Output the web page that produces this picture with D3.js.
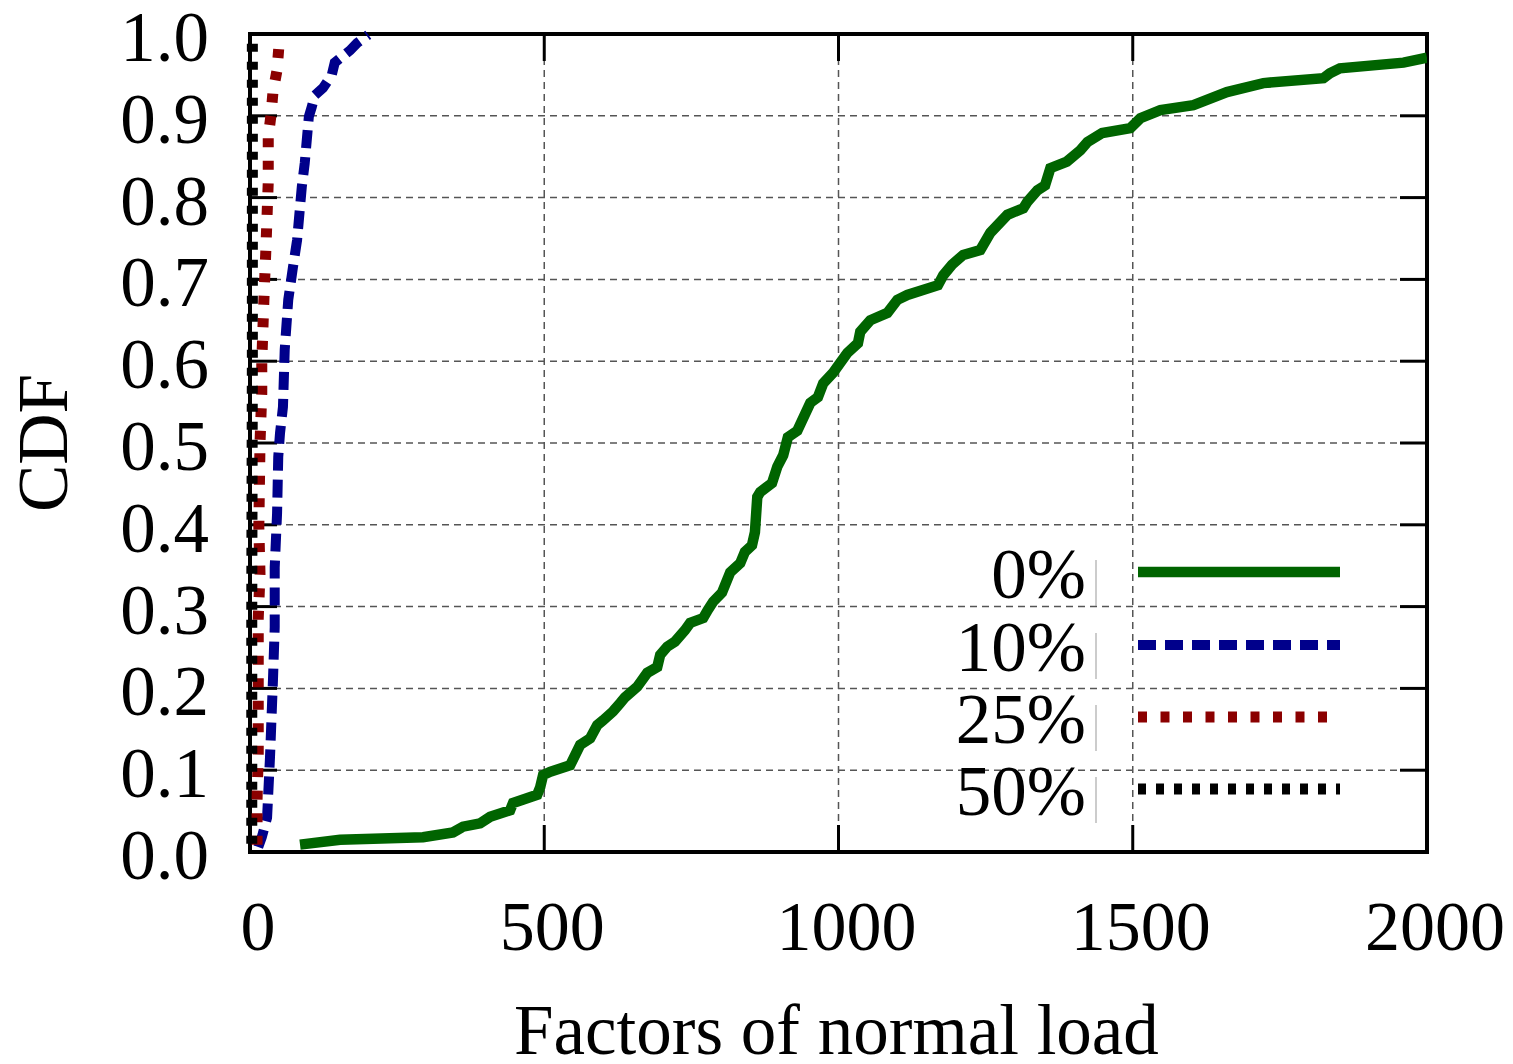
<!DOCTYPE html>
<html>
<head>
<meta charset="utf-8">
<script src="https://cdn.jsdelivr.net/npm/d3@7"></script>
<style>
  body { margin: 0; background: #fff; }
  text { font-family: "Liberation Serif", "Times New Roman", serif; fill: #000; }
</style>
</head>
<body>
<div id="chart"></div>
<script>
// CDF curves, [factor of normal load, cumulative fraction]
const load0 = [
  [85, 0.009], [153, 0.015], [294, 0.018], [345, 0.024], [362, 0.031], [391, 0.035],
  [408, 0.043], [442, 0.051], [447, 0.060], [488, 0.070], [493, 0.079], [498, 0.094],
  [510, 0.098], [544, 0.106], [561, 0.131], [578, 0.139], [590, 0.155], [600, 0.161],
  [617, 0.172], [629, 0.182], [637, 0.189], [658, 0.202], [675, 0.219], [692, 0.226],
  [697, 0.241], [709, 0.251], [722, 0.257], [739, 0.271], [748, 0.280], [770, 0.286],
  [778, 0.296], [787, 0.306], [802, 0.317], [816, 0.342], [833, 0.353], [841, 0.367],
  [853, 0.375], [858, 0.391], [862, 0.434], [867, 0.440], [887, 0.451], [896, 0.471],
  [906, 0.485], [914, 0.507], [930, 0.515], [952, 0.549], [965, 0.556], [974, 0.573],
  [991, 0.586], [998, 0.593], [1015, 0.610], [1033, 0.622], [1037, 0.636], [1054, 0.650],
  [1083, 0.659], [1100, 0.675], [1117, 0.681], [1169, 0.693], [1178, 0.705], [1193, 0.718],
  [1212, 0.730], [1241, 0.736], [1258, 0.757], [1287, 0.779], [1314, 0.787], [1321, 0.795],
  [1338, 0.809], [1351, 0.815], [1360, 0.836], [1388, 0.844], [1411, 0.858], [1423, 0.868],
  [1448, 0.879], [1496, 0.885], [1513, 0.897], [1547, 0.907], [1603, 0.913], [1660, 0.929],
  [1722, 0.940], [1824, 0.946], [1835, 0.952], [1852, 0.958], [1960, 0.965], [2000, 0.971]
];
const load10 = [
  [14, 0.006], [20, 0.018], [29, 0.042], [34, 0.116], [39, 0.210], [42, 0.275],
  [42, 0.348], [46, 0.414], [48, 0.483], [51, 0.512], [56, 0.544], [59, 0.614],
  [65, 0.675], [73, 0.715], [80, 0.748], [88, 0.813], [93, 0.842], [100, 0.899],
  [105, 0.911], [110, 0.925], [124, 0.934], [139, 0.950], [144, 0.965], [170, 0.980],
  [182, 0.989], [201, 0.999]
];
const load25 = [
  [12, 0.009], [12, 0.064], [14, 0.120], [14, 0.202], [14, 0.286], [17, 0.340],
  [15, 0.397], [17, 0.500], [20, 0.561], [20, 0.599], [24, 0.683], [27, 0.737],
  [31, 0.819], [31, 0.874], [36, 0.903], [39, 0.929], [46, 0.956], [49, 0.984]
];
const load50 = [
  [3, 0.010], [3, 0.300], [4, 0.600], [4, 0.990]
];

const seriesNames = ["0%", "10%", "25%", "50%"];
const xTicks = [0, 500, 1000, 1500, 2000];
const yTicks = [0, 0.1, 0.2, 0.3, 0.4, 0.5, 0.6, 0.7, 0.8, 0.9, 1.0];

const width = 1513, height = 1064;
const plot = { left: 250, right: 1427, top: 34, bottom: 852 };

const svg = d3.select("#chart").append("svg")
  .attr("width", width)
  .attr("height", height);

const x = d3.scaleLinear().domain([0, 2000]).range([plot.left, plot.right]);
const y = d3.scaleLinear().domain([0, 1]).range([plot.bottom, plot.top]);

// Grid
const grid = svg.append("g")
  .attr("stroke", "#555")
  .attr("stroke-width", 1.5)
  .attr("stroke-dasharray", "7,5");
grid.selectAll(".gx")
  .data(xTicks.slice(1, -1))
  .enter().append("line")
  .attr("x1", d => x(d)).attr("x2", d => x(d))
  .attr("y1", plot.top).attr("y2", plot.bottom);
grid.selectAll(".gy")
  .data(yTicks.slice(1, -1))
  .enter().append("line")
  .attr("y1", d => y(d)).attr("y2", d => y(d))
  .attr("x1", plot.left).attr("x2", plot.right);

// Ticks, inward on all four sides
const tickLen = 27;
const ticks = svg.append("g").attr("stroke", "#000").attr("stroke-width", 3);
xTicks.slice(1, -1).forEach(function(d) {
  ticks.append("line").attr("x1", x(d)).attr("x2", x(d))
    .attr("y1", plot.bottom).attr("y2", plot.bottom - tickLen);
  ticks.append("line").attr("x1", x(d)).attr("x2", x(d))
    .attr("y1", plot.top).attr("y2", plot.top + tickLen);
});
yTicks.slice(1, -1).forEach(function(d) {
  ticks.append("line").attr("y1", y(d)).attr("y2", y(d))
    .attr("x1", plot.left).attr("x2", plot.left + tickLen);
  ticks.append("line").attr("y1", y(d)).attr("y2", y(d))
    .attr("x1", plot.right).attr("x2", plot.right - tickLen);
});

// Border
svg.append("rect")
  .attr("x", plot.left).attr("y", plot.top)
  .attr("width", plot.right - plot.left)
  .attr("height", plot.bottom - plot.top)
  .attr("fill", "none")
  .attr("stroke", "#000")
  .attr("stroke-width", 4);

// Tick labels
svg.append("g").selectAll("text")
  .data(xTicks)
  .enter().append("text")
  .attr("x", d => x(d) + 8)
  .attr("y", 950)
  .attr("text-anchor", "middle")
  .attr("font-size", 70)
  .text(d => d);

svg.append("g").selectAll("text")
  .data(yTicks)
  .enter().append("text")
  .attr("x", 209)
  .attr("y", d => y(d) + 27)
  .attr("text-anchor", "end")
  .attr("font-size", 71)
  .text(d3.format(".1f"));

// Axis titles
svg.append("text")
  .attr("x", (plot.left + plot.right) / 2 - 2)
  .attr("y", 1054)
  .attr("text-anchor", "middle")
  .attr("font-size", 71)
  .text("Factors of normal load");

svg.append("text")
  .attr("transform", "translate(67," + ((plot.top + plot.bottom) / 2) + ") rotate(-90)")
  .attr("text-anchor", "middle")
  .attr("font-size", 71)
  .text("CDF");

// Curves
const styles = [
  { data: load0, color: "#006400", width: 10.5, dash: null },
  { data: load10, color: "#00008b", width: 10, dash: "18,9" },
  { data: load25, color: "#8b0000", width: 11, dash: "9,13.5" },
  { data: load50, color: "#000000", width: 11, dash: "8,10" }
];

svg.append("clipPath").attr("id", "clip")
  .append("rect")
  .attr("x", plot.left - 10).attr("y", plot.top - 10)
  .attr("width", plot.right - plot.left + 10)
  .attr("height", plot.bottom - plot.top + 10);

const line = d3.line()
  .x(d => x(d[0]))
  .y(d => y(d[1]));

const curves = svg.append("g").attr("clip-path", "url(#clip)");
styles.forEach(function(s) {
  curves.append("path")
    .datum(s.data)
    .attr("fill", "none")
    .attr("stroke", s.color)
    .attr("stroke-width", s.width)
    .attr("stroke-linejoin", "miter")
    .attr("stroke-dasharray", s.dash)
    .attr("d", line);
});

// Legend
const legend = svg.append("g");
const legendY = [572, 645, 717, 789];
styles.forEach(function(s, i) {
  legend.append("text")
    .attr("x", 1086)
    .attr("y", legendY[i] + 26)
    .attr("text-anchor", "end")
    .attr("font-size", 71)
    .text(seriesNames[i]);
  legend.append("line")
    .attr("x1", 1096).attr("x2", 1096)
    .attr("y1", legendY[i] - 12).attr("y2", legendY[i] + 34)
    .attr("stroke", "#999")
    .attr("stroke-width", 1);
  legend.append("line")
    .attr("x1", 1138).attr("x2", 1340)
    .attr("y1", legendY[i]).attr("y2", legendY[i])
    .attr("stroke", s.color)
    .attr("stroke-width", s.width)
    .attr("stroke-dasharray", s.dash);
});
</script>
</body>
</html>
